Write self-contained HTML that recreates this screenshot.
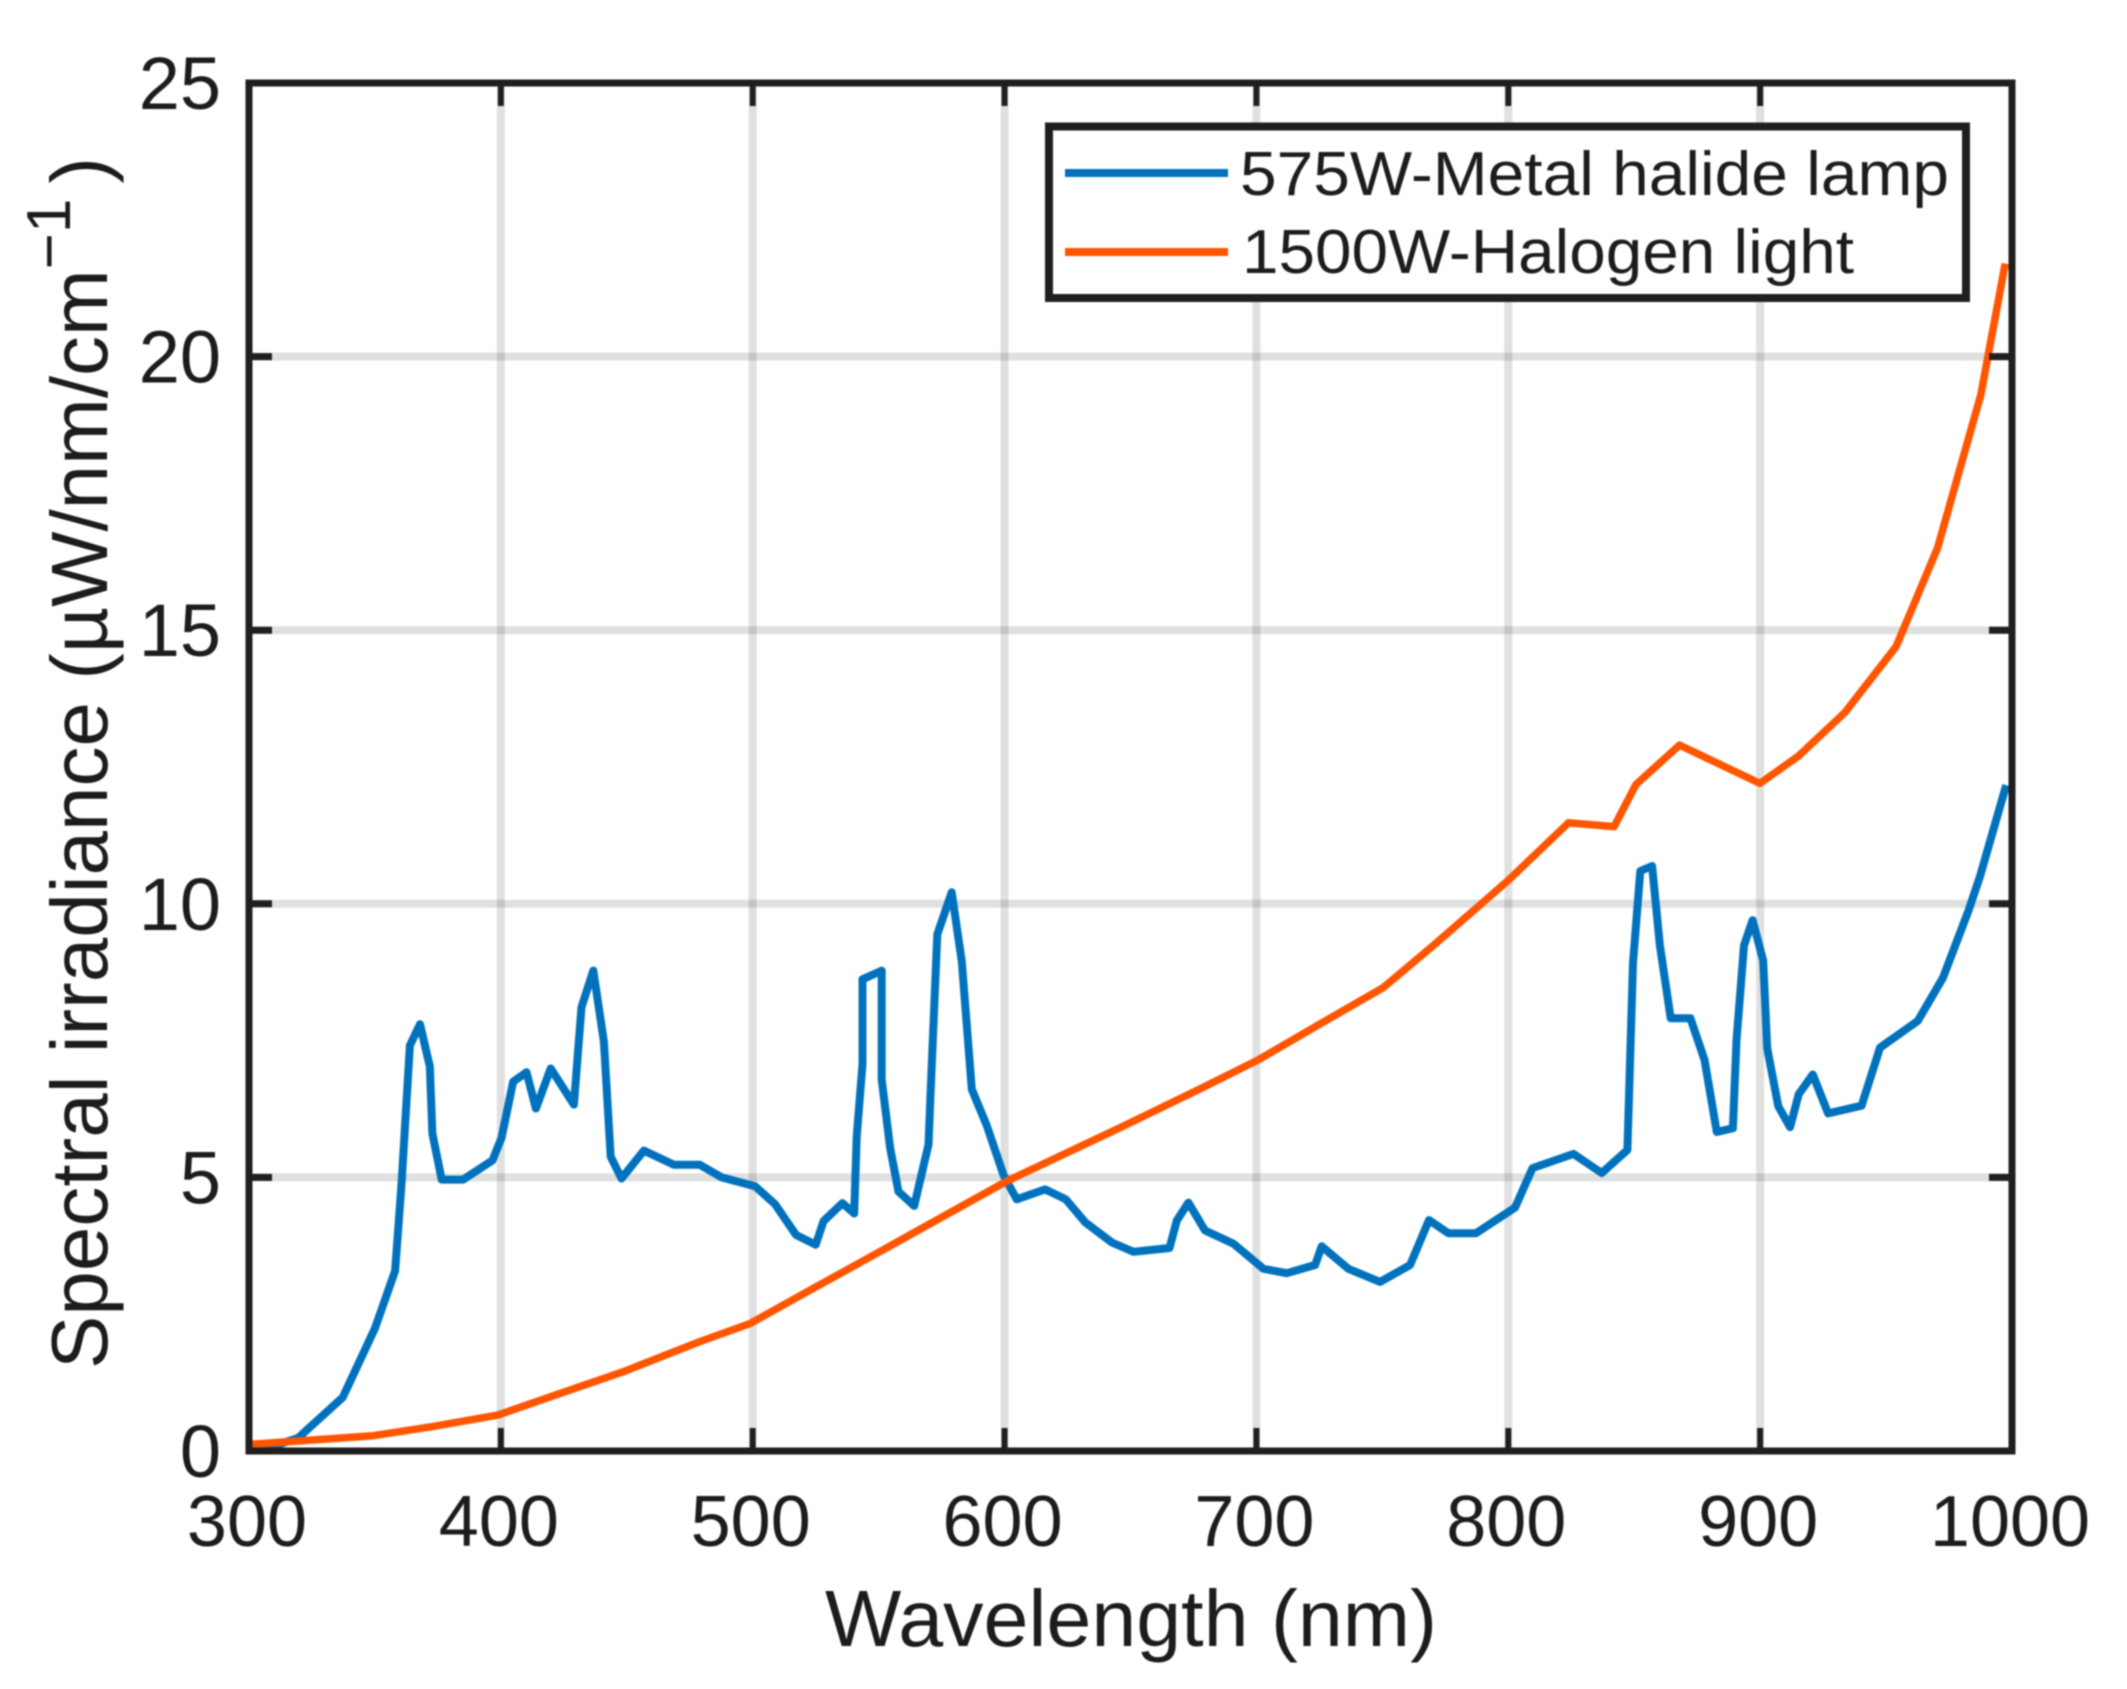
<!DOCTYPE html>
<html lang="en">
<head>
<meta charset="utf-8">
<title>Spectral irradiance chart</title>
<style>
html,body{margin:0;padding:0;background:#fff;}
body{width:2127px;height:1689px;overflow:hidden;}
svg{display:block;filter:blur(0.7px);}
text{font-family:"Liberation Sans",Arial,sans-serif;fill:#1c1c1c;}
</style>
</head>
<body>
<svg id="chart" xmlns="http://www.w3.org/2000/svg" width="2127" height="1689" viewBox="0 0 2127 1689">
  <rect x="0" y="0" width="2127" height="1689" fill="#fff"/>
  <g id="grid"></g>
  <g id="series"></g>
  <g id="ticks"></g>
  <rect x="249" y="83" width="1763" height="1368" fill="none" stroke="#1f1f1f" stroke-width="7"/>
  <g id="tick-labels"></g>
  <text x="825" y="1646" font-size="80" textLength="612" lengthAdjust="spacingAndGlyphs">Wavelength (nm)</text>
  <text transform="translate(107,1369) rotate(-90)" font-size="80">Spectral irradiance (µW/nm/cm<tspan dy="-37" font-size="62">−1</tspan><tspan dx="15" dy="37" font-size="80">)</tspan></text>
  <g>
    <rect x="1049" y="126.5" width="917" height="171.5" fill="#fff" stroke="#1f1f1f" stroke-width="8"/>
    <line x1="1065" y1="173" x2="1228" y2="173" stroke="#0072BD" stroke-width="8"/>
    <text x="1240" y="195" font-size="62" textLength="709" lengthAdjust="spacingAndGlyphs">575W-Metal halide lamp</text>
    <line x1="1065" y1="252" x2="1228" y2="252" stroke="#FF5500" stroke-width="8"/>
    <text x="1242" y="273" font-size="62" textLength="612" lengthAdjust="spacingAndGlyphs">1500W-Halogen light</text>
  </g>
</svg>
<script>
const xTickValues = [300, 400, 500, 600, 700, 800, 900, 1000];
const yTickValues = [0, 5, 10, 15, 20, 25];

const metalHalideWavelengths = [304, 319.5, 337.2, 350, 358, 360.6, 363.9, 367.9, 371.8, 372.8, 376.5, 385, 396.7, 400.3, 404.9, 410.2, 413.9, 419.8, 429, 432, 436.7, 440.9, 443.6, 447.9, 456.8, 468.7, 479, 487.7, 500.9, 508.9, 517.2, 525, 528.1, 535.6, 540.3, 541.3, 543.6, 543.6, 551.2, 551.2, 554.6, 557.9, 564.1, 569.8, 571.1, 573.3, 579, 583, 587, 592.9, 599.6, 604.8, 616.1, 624.3, 632, 642.6, 651.2, 665.5, 668.4, 673, 679.6, 690.8, 702.8, 712, 723.3, 725.9, 736.5, 749.1, 761, 768.5, 776.2, 787.2, 802.7, 809.6, 825.9, 837.1, 847.3, 849.5, 852.4, 857.1, 860.2, 864.5, 872.3, 877.9, 882.8, 889.2, 890.6, 893.6, 897, 901.2, 902.8, 907.2, 911.9, 915.3, 920.9, 927, 940.3, 947.6, 962.6, 972.6, 982.7, 987.3, 997.7];
const metalHalideValues = [0.0, 0.24, 0.98, 2.24, 3.29, 4.9, 7.41, 7.8, 7.03, 5.8, 4.96, 4.96, 5.31, 5.73, 6.75, 6.92, 6.26, 6.99, 6.33, 8.11, 8.78, 7.48, 5.38, 4.98, 5.49, 5.23, 5.23, 5.0, 4.84, 4.51, 3.95, 3.77, 4.2, 4.53, 4.34, 5.74, 7.07, 8.62, 8.78, 6.79, 5.53, 4.74, 4.48, 5.6, 7.07, 9.44, 10.21, 8.95, 6.61, 5.95, 5.04, 4.6, 4.78, 4.6, 4.18, 3.81, 3.64, 3.71, 4.21, 4.54, 4.03, 3.79, 3.33, 3.25, 3.4, 3.74, 3.33, 3.09, 3.4, 4.22, 3.98, 3.98, 4.45, 5.17, 5.43, 5.08, 5.5, 8.92, 10.6, 10.69, 9.24, 7.91, 7.91, 7.15, 5.83, 5.9, 7.5, 9.24, 9.7, 8.96, 7.36, 6.3, 5.92, 6.52, 6.88, 6.17, 6.31, 7.37, 7.86, 8.65, 9.87, 10.5, 12.17];

const halogenWavelengths = [300.4, 349.3, 373.2, 399, 421.5, 448.6, 479, 499, 522.8, 545.3, 575.7, 600.9, 645.9, 677.7, 700.8, 726.6, 750.4, 770.3, 800, 823.9, 842, 850.7, 868, 899.9, 915.2, 933.7, 954, 970.4, 987.6, 997.3];
const halogenValues = [0.12, 0.28, 0.45, 0.66, 1.02, 1.45, 2.0, 2.33, 2.94, 3.51, 4.29, 4.93, 5.91, 6.62, 7.15, 7.84, 8.47, 9.24, 10.43, 11.48, 11.41, 12.18, 12.9, 12.2, 12.7, 13.5, 14.7, 16.5, 19.3, 21.7];

const SVG_NS = 'http://www.w3.org/2000/svg';
const xScale = function (w) { return 249 + (w - 300) * (1763 / 700); };
const yScale = function (v) { return 1451 - v * (1368 / 25); };

const gridGroup = document.getElementById('grid');
const seriesGroup = document.getElementById('series');
const tickGroup = document.getElementById('ticks');
const labelGroup = document.getElementById('tick-labels');

function addLine(parent, x1, y1, x2, y2, stroke, width, opacity) {
  const el = document.createElementNS(SVG_NS, 'line');
  el.setAttribute('x1', x1);
  el.setAttribute('y1', y1);
  el.setAttribute('x2', x2);
  el.setAttribute('y2', y2);
  el.setAttribute('stroke', stroke);
  el.setAttribute('stroke-width', width);
  if (opacity) el.setAttribute('stroke-opacity', opacity);
  parent.appendChild(el);
  return el;
}

xTickValues.forEach(function (t) {
  const x = xScale(t);
  if (t !== 300 && t !== 1000) {
    const g = addLine(gridGroup, x, 83, x, 1451, '#222', 8, 0.14);
    
    
    const tb = addLine(tickGroup, x, 1451, x, 1428, '#1f1f1f', 6);
    
    
    const tt = addLine(tickGroup, x, 83, x, 106, '#1f1f1f', 6);
    
    
  }
  const label = document.createElementNS(SVG_NS, 'text');
  
  
  label.setAttribute('x', x - 2);
  label.setAttribute('y', 1546);
  label.setAttribute('font-size', 72);
  label.setAttribute('text-anchor', 'middle');
  label.textContent = String(t);
  labelGroup.appendChild(label);
});

yTickValues.forEach(function (t) {
  const y = yScale(t);
  if (t !== 0 && t !== 25) {
    const g = addLine(gridGroup, 249, y, 2012, y, '#222', 8, 0.14);
    
    
    const tl = addLine(tickGroup, 249, y, 272, y, '#1f1f1f', 7);
    
    
    const tr = addLine(tickGroup, 2012, y, 1989, y, '#1f1f1f', 7);
    
    
  }
  const label = document.createElementNS(SVG_NS, 'text');
  
  
  label.setAttribute('x', 221);
  label.setAttribute('y', y + 26);
  label.setAttribute('font-size', 74);
  label.setAttribute('text-anchor', 'end');
  label.textContent = String(t);
  labelGroup.appendChild(label);
});

function pathFrom(xs, ys) {
  return xs.map(function (w, i) {
    return (i === 0 ? 'M' : 'L') + xScale(w).toFixed(1) + ' ' + yScale(ys[i]).toFixed(1);
  }).join(' ');
}

const metalHalideLine = document.createElementNS(SVG_NS, 'path');


metalHalideLine.setAttribute('d', pathFrom(metalHalideWavelengths, metalHalideValues));
metalHalideLine.setAttribute('fill', 'none');
metalHalideLine.setAttribute('stroke', '#0072BD');
metalHalideLine.setAttribute('stroke-width', '8');
metalHalideLine.setAttribute('stroke-linejoin', 'round');
seriesGroup.appendChild(metalHalideLine);

const halogenLine = document.createElementNS(SVG_NS, 'path');


halogenLine.setAttribute('d', pathFrom(halogenWavelengths, halogenValues));
halogenLine.setAttribute('fill', 'none');
halogenLine.setAttribute('stroke', '#FF5500');
halogenLine.setAttribute('stroke-width', '7.5');
halogenLine.setAttribute('stroke-linejoin', 'round');
seriesGroup.appendChild(halogenLine);
</script>
</body>
</html>
